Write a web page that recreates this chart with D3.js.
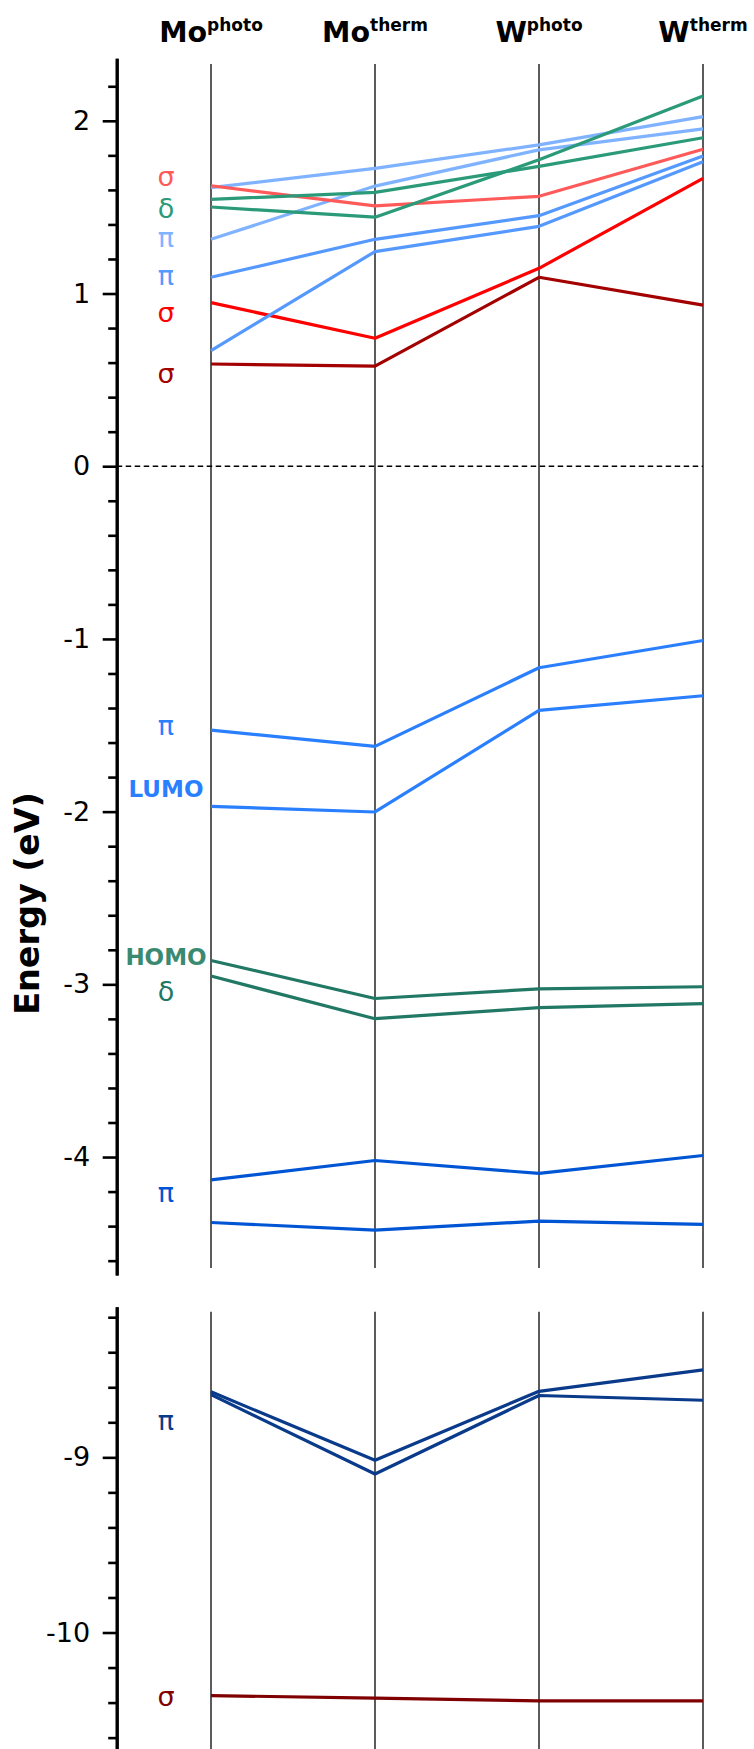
<!DOCTYPE html>
<html>
<head>
<meta charset="utf-8">
<script src="https://cdn.jsdelivr.net/npm/d3@7"></script>
<style>
  html, body { margin: 0; padding: 0; background: #fff; }
  svg { display: block; }
  text { font-family: "DejaVu Sans", sans-serif; }
</style>
</head>
<body>
<svg id="chart" width="754" height="1749"></svg>
<script>
// ---------- data ----------
const columnMain = ["Mo", "Mo", "W", "W"];
const columnSup  = ["photo", "therm", "photo", "therm"];

// upper panel, eV at Mo-photo, Mo-therm, W-photo, W-therm
const sigmaSalmon  = [1.624, 1.507, 1.563, 1.835];
const deltaGreenA  = [1.545, 1.586, 1.736, 1.902];
const deltaGreenB  = [1.501, 1.442, 1.774, 2.144];
const piLightA     = [1.613, 1.725, 1.861, 2.024];
const piLightB     = [1.314, 1.622, 1.832, 1.953];
const piBlueA      = [1.094, 1.314, 1.451, 1.796];
const piBlueB      = [0.669, 1.243, 1.389, 1.763];
const sigmaRed     = [0.947, 0.741, 1.146, 1.667];
const sigmaDarkRed = [0.592, 0.580, 1.094, 0.933];

const piMid        = [-1.528, -1.622, -1.167, -1.009];
const lumo         = [-1.969, -2.002, -1.414, -1.329];
const homo         = [-2.862, -3.082, -3.026, -3.014];
const deltaMid     = [-2.952, -3.199, -3.135, -3.112];
const piLowA       = [-4.132, -4.020, -4.095, -3.991];
const piLowB       = [-4.379, -4.423, -4.371, -4.390];

// lower panel
const piDeepA      = [-8.626, -9.017, -8.623, -8.501];
const piDeepB      = [-8.642, -9.095, -8.647, -8.674];
const sigmaDeep    = [-10.360, -10.375, -10.390, -10.390];

const upperTicks = [2, 1, 0, -1, -2, -3, -4];
const lowerTicks = [-9, -10];

// series: [values, colour, panel]
const series = [
  [sigmaDarkRed, "#a30000", "up"],
  [sigmaRed,     "#ff0000", "up"],
  [piBlueB,      "#5599ff", "up"],
  [piBlueA,      "#5599ff", "up"],
  [piLightB,     "#80b3ff", "up"],
  [piLightA,     "#80b3ff", "up"],
  [sigmaSalmon,  "#ff5a5a", "up"],
  [deltaGreenB,  "#2a9a78", "up"],
  [deltaGreenA,  "#2a9a78", "up"],
  [piMid,        "#2a7fff", "up"],
  [lumo,         "#2a7fff", "up"],
  [homo,         "#217864", "up"],
  [deltaMid,     "#217864", "up"],
  [piLowA,       "#0055d4", "up"],
  [piLowB,       "#0055d4", "up"],
  [piDeepA,      "#0a3a8a", "low"],
  [piDeepB,      "#0a3a8a", "low"],
  [sigmaDeep,    "#800000", "low"]
];

// labels: [text, energy (baseline), colour, bold, panel]
const labels = [
  ["σ", 1.622, "#ff5a5a", false, "up"],
  ["δ", 1.437, "#2a9a78", false, "up"],
  ["π", 1.269, "#80b3ff", false, "up"],
  ["π", 1.049, "#5599ff", false, "up"],
  ["σ", 0.835, "#ff0000", false, "up"],
  ["σ", 0.482, "#a30000", false, "up"],
  ["π", -1.556, "#2a7fff", false, "up"],
  ["LUMO", -1.918, "#2a7fff", true, "up"],
  ["HOMO", -2.889, "#3a8a72", true, "up"],
  ["δ", -3.095, "#217864", false, "up"],
  ["π", -4.259, "#0055d4", false, "up"],
  ["π", -8.845, "#0a3a8a", false, "low"],
  ["σ", -10.42, "#800000", false, "low"]
];

// ---------- layout ----------
const svg = d3.select("#chart");
const axisX = 116.7;

const x = d3.scalePoint().domain([0, 1, 2, 3]).range([211, 703]);
const yUp  = d3.scaleLinear().domain([-4.683, 2.362]).range([1275, 58.3]);
const yLow = d3.scaleLinear().domain([-10.665, -8.14]).range([1749, 1306.7]);
const yOf = p => p === "up" ? yUp : yLow;

// header
const head = svg.append("g");
columnMain.forEach((m, i) => {
  const t = head.append("text")
    .attr("x", x(i)).attr("y", 42.3)
    .attr("text-anchor", "middle")
    .attr("font-weight", "bold")
    .attr("font-size", 28.5)
    .attr("fill", "#000");
  t.append("tspan").text(m);
  t.append("tspan").attr("font-size", 17).attr("dy", -11).text(columnSup[i]);
});

// column lines
const cols = svg.append("g");
[[64, 1268], [1311.7, 1749]].forEach(([y0, y1]) => {
  cols.selectAll(null).data(x.domain()).enter().append("line")
    .attr("x1", d => x(d)).attr("x2", d => x(d))
    .attr("y1", y0).attr("y2", y1)
    .attr("stroke", "#333").attr("stroke-width", 1.6);
});

// zero line
svg.append("line")
  .attr("x1", axisX).attr("x2", x(3))
  .attr("y1", yUp(0)).attr("y2", yUp(0))
  .attr("stroke", "#000").attr("stroke-width", 1.5)
  .attr("stroke-dasharray", "5.5,3.5");

// axes
function drawAxis(sc, majors) {
  const [lo, hi] = sc.domain();
  const minors = d3.range(Math.ceil(lo * 5), Math.floor(hi * 5) + 1)
    .map(k => k / 5).filter(v => Math.abs(v - Math.round(v)) > 1e-6);
  const gMin = svg.append("g").attr("transform", `translate(${axisX},0)`)
    .call(d3.axisLeft(sc).tickValues(minors).tickSize(8.5).tickSizeOuter(0).tickFormat(""));
  const gMaj = svg.append("g").attr("transform", `translate(${axisX},0)`)
    .call(d3.axisLeft(sc).tickValues(majors).tickSize(14).tickSizeOuter(0)
      .tickPadding(12.5).tickFormat(d => String(d)));
  [gMin, gMaj].forEach(g => {
    g.selectAll(".tick line").attr("stroke", "#000").attr("stroke-width", 2.6);
    g.select(".domain").attr("stroke", "#000").attr("stroke-width", 3);
    g.selectAll(".tick text").attr("font-size", 27).attr("fill", "#000")
      .attr("font-family", "DejaVu Sans, sans-serif");
  });
}
drawAxis(yUp, upperTicks);
drawAxis(yLow, lowerTicks);

// y label
svg.append("text")
  .attr("transform", `translate(39,903.5) rotate(-90)`)
  .attr("text-anchor", "middle")
  .attr("font-weight", "bold")
  .attr("font-size", 33.5)
  .attr("fill", "#000")
  .text("Energy (eV)");

// lines
const gLines = svg.append("g");
series.forEach(([vals, col, p]) => {
  const sc = yOf(p);
  const line = d3.line().x((d, i) => x(i)).y(d => sc(d));
  gLines.append("path")
    .attr("d", line(vals))
    .attr("fill", "none")
    .attr("stroke", col)
    .attr("stroke-width", 3.2)
    .attr("stroke-linejoin", "round");
});

// labels
const gLab = svg.append("g");
labels.forEach(([txt, e, col, bold, p]) => {
  gLab.append("text")
    .attr("x", 166).attr("y", yOf(p)(e))
    .attr("text-anchor", "middle")
    .attr("font-size", bold ? 23 : 27)
    .attr("font-weight", bold ? "bold" : "normal")
    .attr("fill", col)
    .text(txt);
});
</script>
</body>
</html>
